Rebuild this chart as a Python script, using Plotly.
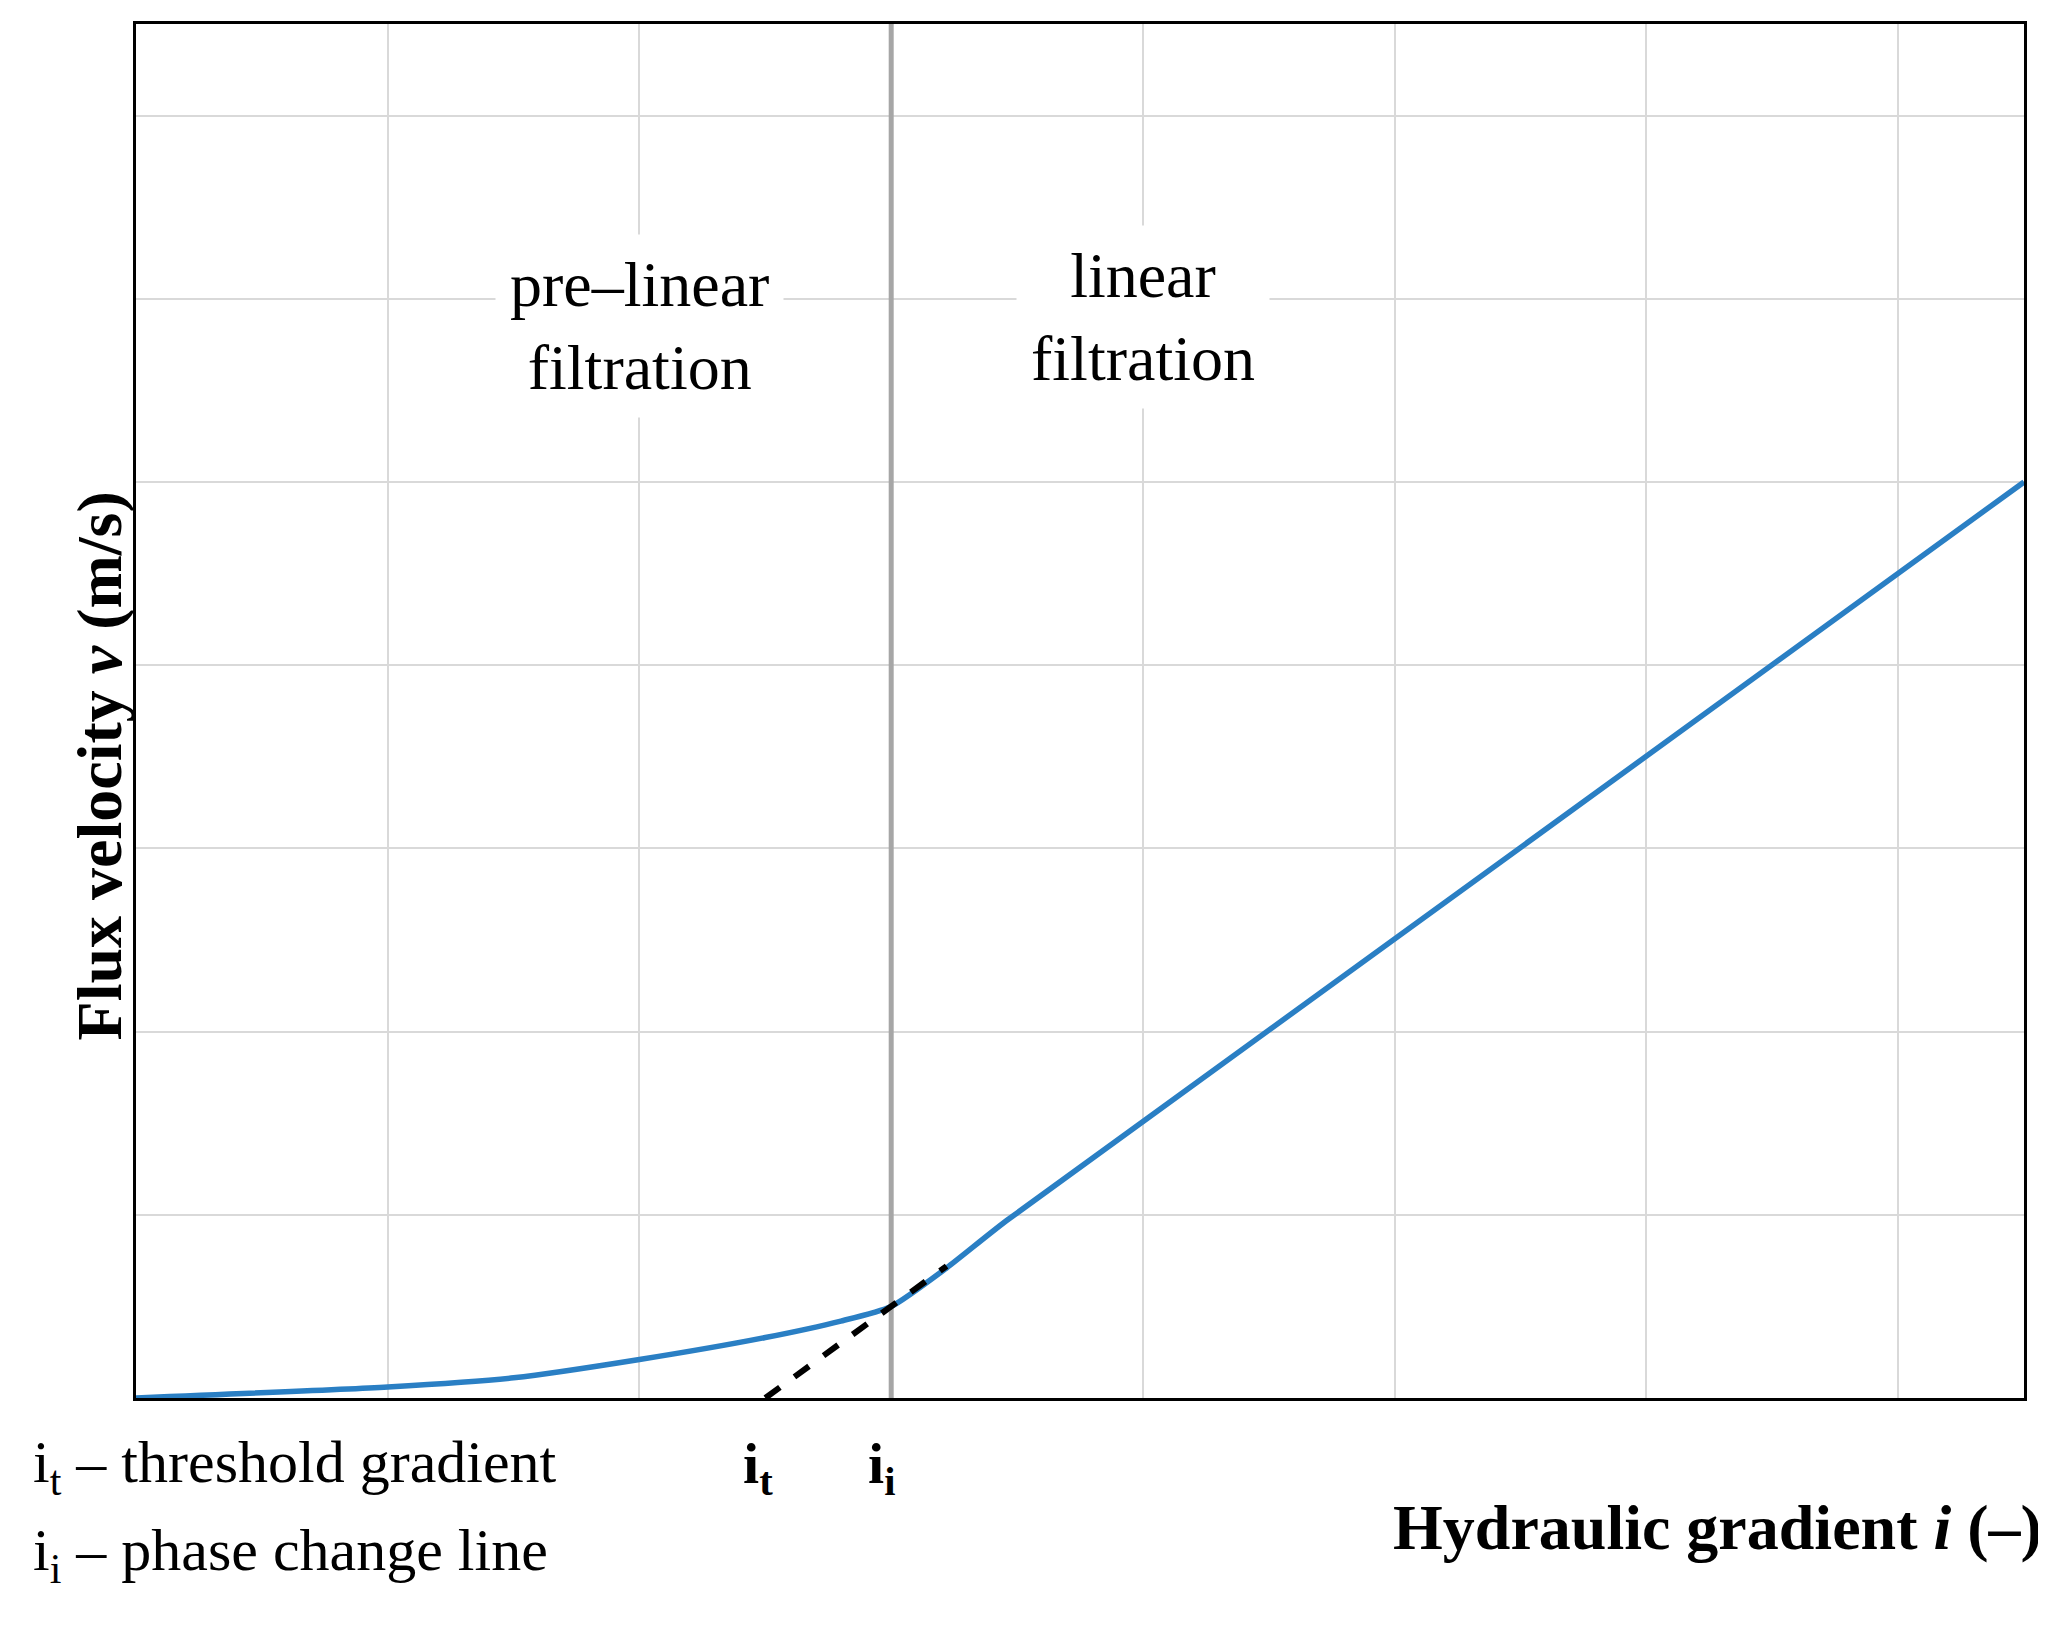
import plotly.graph_objects as go

curve_x = [0, 1.0, 1.5, 2.0, 2.5, 2.8, 3.0, 3.22, 3.46, 7.5]
curve_y = [0, 0.06, 0.11, 0.21, 0.33, 0.42, 0.5, 0.71, 0.97, 5.0]
dash_x = [2.5, 3.22]
dash_y = [0.0, 0.72]
phase_x = 3.0
tick_vals = [0, 1, 2, 3, 4, 5, 6, 7]

F = "Liberation Serif"
fig = go.Figure()
fig.add_trace(go.Scatter(x=[phase_x, phase_x], y=[0, 7.5], mode="lines",
                         line=dict(color="#a6a6a6", width=5), showlegend=False))
fig.add_trace(go.Scatter(x=curve_x, y=curve_y, mode="lines",
                         line=dict(color="#2a7fc4", width=5.5, shape="spline", smoothing=0.6), showlegend=False))
fig.add_trace(go.Scatter(x=dash_x, y=dash_y, mode="lines",
                         line=dict(color="black", width=6, dash="dash"), showlegend=False))

ann = []
for tx, x, y in [("pre–linear<br>filtration", 2.0, 5.85), ("linear<br>filtration", 4.0, 5.9)]:
    ann.append(dict(x=x, y=y, xref="x", yref="y", text=tx, showarrow=False,
                    bgcolor="white", font=dict(family=F, size=64, color="black"), borderpad=14))
ann += [
    dict(x=-0.0556, y=-0.0786, xref="paper", yref="paper", xanchor="left", text="i<sub>t</sub> – threshold gradient",
         showarrow=False, font=dict(family=F, size=60, color="black")),
    dict(x=-0.0556, y=-0.1426, xref="paper", yref="paper", xanchor="left", text="i<sub>i</sub> – phase change line",
         showarrow=False, font=dict(family=F, size=60, color="black")),
    dict(x=2.47, y=-0.0786, xref="x", yref="paper", text="<b>i<sub>t</sub></b>",
         showarrow=False, font=dict(family=F, size=58, color="black")),
    dict(x=2.96, y=-0.0786, xref="x", yref="paper", text="<b>i<sub>i</sub></b>",
         showarrow=False, font=dict(family=F, size=58, color="black")),
    dict(x=1.0106, y=-0.1215, xref="paper", yref="paper", xanchor="right",
         text="<b>Hydraulic gradient <i>i</i> (–)</b>", showarrow=False, font=dict(family=F, size=64, color="black")),
    dict(x=-0.0387, y=0.46, xref="paper", yref="paper", textangle=-90,
         text="<b>Flux velocity <i>v</i> (m/s)</b>", showarrow=False, font=dict(family=F, size=64, color="black")),
]

fig.update_layout(width=2046, height=1640, margin=dict(l=128, r=30, t=16, b=250),
                  plot_bgcolor="white", paper_bgcolor="white", annotations=ann)
fig.update_xaxes(range=[0, 7.5], tickvals=tick_vals, showticklabels=False, showgrid=True,
                 gridcolor="#d9d9d9", gridwidth=2, showline=True, linecolor="black", linewidth=3,
                 mirror=True, zeroline=False)
fig.update_yaxes(range=[0, 7.5], tickvals=tick_vals, showticklabels=False, showgrid=True,
                 gridcolor="#d9d9d9", gridwidth=2, showline=True, linecolor="black", linewidth=3,
                 mirror=True, zeroline=False)
fig.write_html("out.html")
